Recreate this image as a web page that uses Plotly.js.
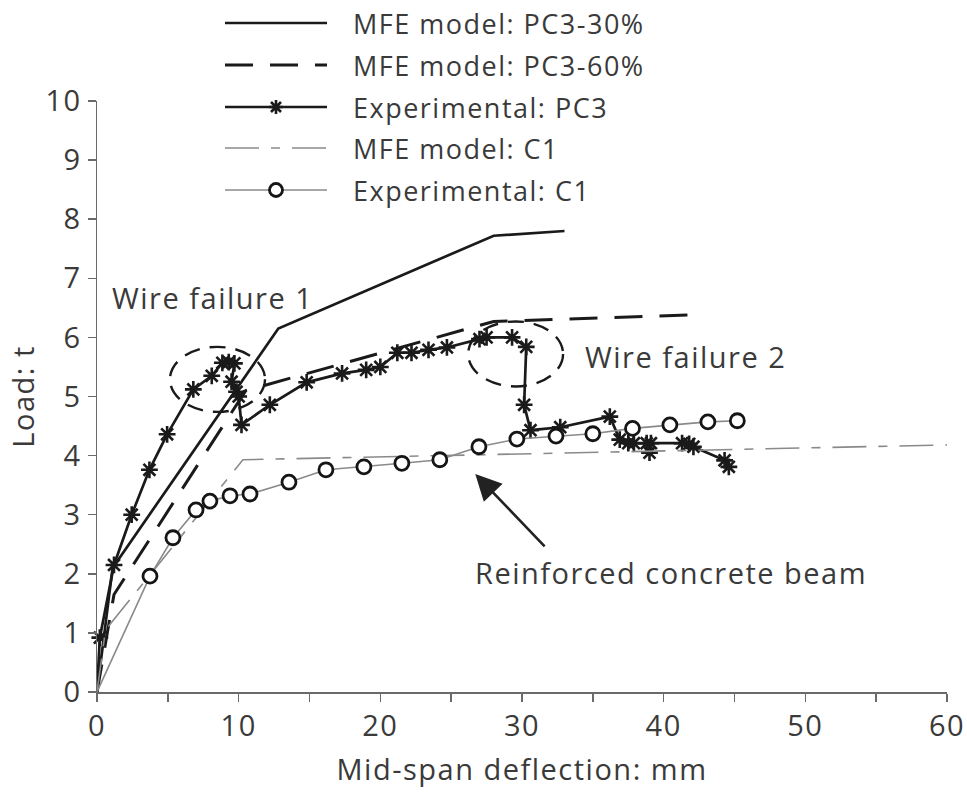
<!DOCTYPE html>
<html>
<head>
<meta charset="utf-8">
<script src="https://cdn.plot.ly/plotly-3.0.1.min.js"></script>
<style>
html,body{margin:0;padding:0;background:#fff;}
#chart{width:967px;height:799px;}
text{letter-spacing:1.5px;}
</style>
</head>
<body>
<div id="chart"></div>
<script>
// ---- data ----
const pc3_30_x = [0, 1.1, 12.8, 28.0, 33.0];
const pc3_30_y = [0, 2.1, 6.15, 7.72, 7.8];

const pc3_60_x = [0, 1.2, 10.5, 28.0, 42.0];
const pc3_60_y = [0, 1.65, 5.1, 6.27, 6.38];

const exp_pc3_x = [0, 0.2, 1.2, 2.45, 3.7, 4.95, 6.8, 8.1, 8.85, 9.3, 9.7, 9.5, 9.85, 10.0, 10.2, 12.2, 14.8, 17.3, 19.0, 20.0, 21.2, 22.2, 23.4, 24.7, 27.0, 27.5, 29.3, 30.3, 30.15, 30.6, 32.7, 36.2, 36.9, 37.5, 37.9, 38.8, 39.0, 39.1, 41.3, 41.8, 42.1, 44.3, 44.6];
const exp_pc3_y = [0, 0.92, 2.15, 3.0, 3.76, 4.36, 5.12, 5.35, 5.57, 5.58, 5.56, 5.25, 5.08, 5.0, 4.52, 4.86, 5.24, 5.39, 5.45, 5.5, 5.74, 5.74, 5.79, 5.83, 5.97, 6.0, 6.0, 5.84, 4.86, 4.43, 4.48, 4.66, 4.27, 4.21, 4.21, 4.21, 4.05, 4.21, 4.21, 4.2, 4.15, 3.92, 3.81];

const c1_model_x = [0, 0.6, 10.3, 60];
const c1_model_y = [0, 1.05, 3.93, 4.18];

const exp_c1_x = [0, 3.74, 5.36, 6.99, 7.97, 9.39, 10.8, 13.55, 16.16, 18.84, 21.52, 24.2, 26.96, 29.64, 32.4, 35.0, 37.8, 40.44, 43.12, 45.2];
const exp_c1_y = [0, 1.96, 2.61, 3.08, 3.23, 3.32, 3.35, 3.55, 3.76, 3.81, 3.87, 3.93, 4.15, 4.28, 4.33, 4.37, 4.46, 4.52, 4.57, 4.59];

const seriesNames = ["MFE model: PC3-30%", "MFE model: PC3-60%", "Experimental: PC3", "MFE model: C1", "Experimental: C1"];
const xTicks = [0, 10, 20, 30, 40, 50, 60];
const yTicks = [0, 1, 2, 3, 4, 5, 6, 7, 8, 9, 10];

const FONT = "Open Sans, Noto Sans, sans-serif";
const TXT = "#3a3a3a";
const DARK = "#1a1a1a";
const GREY = "#8a8a8a";

// ---- styles per series ----
const lineStyles = [
  {color: DARK, width: 2.7},
  {color: DARK, width: 3, dash: "28px,17px"},
  {color: DARK, width: 2.7},
  {color: GREY, width: 1.6, dash: "34px,12px,9px,12px"},
  {color: GREY, width: 1.6}
];

// marker sizes: hide marker at origin
const pc3Sizes = exp_pc3_x.map((v, i) => i === 0 ? 0 : 14);
const c1Sizes = exp_c1_x.map((v, i) => i === 0 ? 0 : 14);

const traces = [
  {x: pc3_30_x, y: pc3_30_y, name: seriesNames[0], mode: "lines", line: lineStyles[0]},
  {x: pc3_60_x, y: pc3_60_y, name: seriesNames[1], mode: "lines", line: lineStyles[1]},
  {x: exp_pc3_x, y: exp_pc3_y, name: seriesNames[2], mode: "lines+markers", line: lineStyles[2],
   marker: {symbol: "asterisk-open", size: pc3Sizes, opacity: 1, color: DARK, line: {color: DARK, width: 2.6}}},
  {x: c1_model_x, y: c1_model_y, name: seriesNames[3], mode: "lines", line: lineStyles[3]},
  {x: exp_c1_x, y: exp_c1_y, name: seriesNames[4], mode: "lines+markers", line: lineStyles[4],
   marker: {symbol: "circle", size: c1Sizes, opacity: 1, color: "#ffffff", line: {color: "#151515", width: 2.8}}}
];
traces.forEach(t => { t.cliponaxis = false; t.showlegend = false; });

// ---- legend (drawn in paper coordinates) ----
const M = {l: 97, r: 20, t: 101, b: 107};
const W = 967, H = 799;
const PW = W - M.l - M.r, PH = H - M.t - M.b;
const px2x = p => (p - M.l) / PW;
const px2y = p => (H - M.b - p) / PH;
const legRows = [23, 65, 107, 148, 190];
const legX0 = 225, legX1 = 327, legTextX = 351, legMid = 276;

const legendShapes = [];
const legendTexts = [];
seriesNames.forEach((name, i) => {
  const yy = px2y(legRows[i]);
  legendShapes.push({type: "line", xref: "paper", yref: "paper",
    x0: px2x(legX0), x1: px2x(legX1), y0: yy, y1: yy, line: lineStyles[i]});
  legendTexts.push({text: name, xref: "paper", yref: "paper", x: px2x(legTextX), y: yy,
    xanchor: "left", yanchor: "middle", showarrow: false,
    font: {family: FONT, size: 27, color: TXT}});
});
// legend marker samples
legendShapes.push({type: "path", xref: "paper", yref: "paper", xsizemode: "pixel", ysizemode: "pixel",
  xanchor: px2x(legMid), yanchor: px2y(legRows[2]),
  path: "M-7,0L7,0M0,-7L0,7M-5,-5L5,5M-5,5L5,-5", line: {color: DARK, width: 2.6}});
legendShapes.push({type: "circle", xref: "paper", yref: "paper", xsizemode: "pixel", ysizemode: "pixel",
  xanchor: px2x(legMid), yanchor: px2y(legRows[4]), x0: -6.5, x1: 6.5, y0: -6.5, y1: 6.5,
  fillcolor: "#ffffff", line: {color: "#151515", width: 2.8}});

const axisCommon = {
  showgrid: false, zeroline: false, showline: true, linecolor: "#6a6a6a", linewidth: 1.5,
  ticks: "outside", ticklen: 8, tickwidth: 1.5, tickcolor: "#6a6a6a",
  tickfont: {family: FONT, size: 29, color: TXT}
};

const layout = {
  width: W, height: H,
  margin: M,
  paper_bgcolor: "#ffffff", plot_bgcolor: "#ffffff",
  font: {family: FONT, color: TXT},
  showlegend: false,
  xaxis: Object.assign({}, axisCommon, {
    range: [0, 60], tickvals: xTicks, ticktext: xTicks.map(String),
    minor: {dtick: 5, ticks: "outside", ticklen: 8, tickwidth: 1.5, tickcolor: "#6a6a6a"},
    title: {text: "Mid-span deflection: mm", font: {family: FONT, size: 29, color: TXT}, standoff: 16}
  }),
  yaxis: Object.assign({}, axisCommon, {
    range: [0, 10], tickvals: yTicks, ticktext: yTicks.map(String),
    title: {text: "Load: t", font: {family: FONT, size: 29, color: TXT}, standoff: 2}
  }),
  shapes: [
    {type: "circle", xref: "x", yref: "y", x0: 5.15, x1: 11.86, y0: 4.74, y1: 5.84,
     line: {color: DARK, width: 2.4, dash: "16px,10px"}},
    {type: "circle", xref: "x", yref: "y", x0: 26.2, x1: 32.9, y0: 5.17, y1: 6.27,
     line: {color: DARK, width: 2.4, dash: "16px,10px"}}
  ].concat(legendShapes),
  annotations: [
    {text: "Wire failure 1", x: 0.9, y: 6.67, xref: "x", yref: "y", xanchor: "left", yanchor: "middle",
     showarrow: false, font: {family: FONT, size: 29, color: TXT}},
    {text: "Wire failure 2", x: 34.3, y: 5.67, xref: "x", yref: "y", xanchor: "left", yanchor: "middle",
     showarrow: false, font: {family: FONT, size: 29, color: TXT}},
    {text: "Reinforced concrete beam", x: 40.5, y: 2.03, xref: "x", yref: "y", xanchor: "center", yanchor: "middle",
     showarrow: false, font: {family: FONT, size: 29, color: TXT}},
    {text: "", x: 26.7, y: 3.69, xref: "x", yref: "y", ax: 31.7, ay: 2.44, axref: "x", ayref: "y",
     showarrow: true, arrowhead: 2, arrowsize: 2, arrowwidth: 2.6, arrowcolor: "#222222"}
  ].concat(legendTexts)
};

Plotly.newPlot("chart", traces, layout, {staticPlot: true, displayModeBar: false});
</script>
</body>
</html>
